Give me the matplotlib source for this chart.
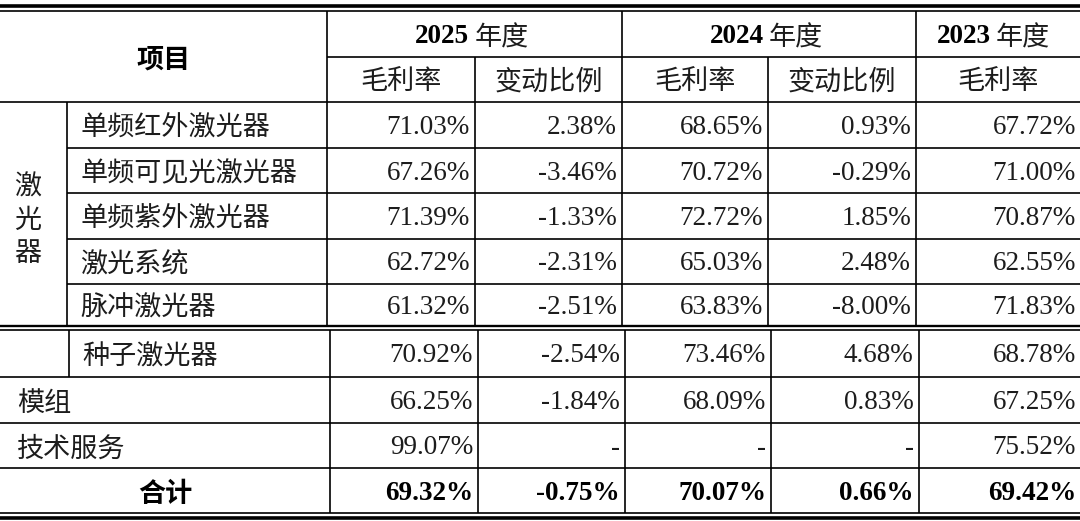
import matplotlib
matplotlib.use("Agg")
import matplotlib.pyplot as plt

# ---------------- data ----------------
categories = ["单频红外激光器", "单频可见光激光器", "单频紫外激光器", "激光系统", "脉冲激光器",
              "种子激光器", "模组", "技术服务", "合计"]
gm_2025 = [71.03, 67.26, 71.39, 62.72, 61.32, 70.92, 66.25, 99.07, 69.32]
chg_2025 = [2.38, -3.46, -1.33, -2.31, -2.51, -2.54, -1.84, None, -0.75]
gm_2024 = [68.65, 70.72, 72.72, 65.03, 63.83, 73.46, 68.09, None, 70.07]
chg_2024 = [0.93, -0.29, 1.85, 2.48, -8.00, 4.68, 0.83, None, 0.66]
gm_2023 = [67.72, 71.00, 70.87, 62.55, 71.83, 68.78, 67.25, 75.52, 69.42]
years = ["2025", "2024", "2023"]
sub_headers = ["毛利率", "变动比例", "毛利率", "变动比例", "毛利率"]
group_label = "激光器"
item_header = "项目"
year_suffix = "年度"

# ---------------- layout ----------------
W, H = 1080, 521
fig = plt.figure(figsize=(W / 100, H / 100), dpi=100)
ax = fig.add_axes([0, 0, 1, 1])
ax.set_xlim(0, W)
ax.set_ylim(H, 0)
ax.axis("off")

FS = 19.5
NUM_FONT = ["Liberation Serif", "Noto Sans CJK SC"]
CJK_FONT = ["Noto Sans CJK SC", "DejaVu Sans"]
TXT = "#1c1c1c"
LW = 1.2
CJK_DY = 3.5
NUM_DY = 2.5

# column borders (upper block / lower block, slightly shifted as in source)
cols_up = [0, 67, 327, 475, 622, 768, 916, 1080]
cols_lo = [0, 69, 330, 478, 625, 771, 918.5, 1080]

def hl(y, x0, x1, lw=LW):
    ax.plot([x0, x1], [y, y], color="black", lw=lw, solid_capstyle="butt")

def vl(x, y0, y1, lw=LW):
    ax.plot([x, x], [y0, y1], color="black", lw=lw, solid_capstyle="butt")

# horizontal rules
hl(6, 0, W, 2.6)
hl(10.5, 0, W)
hl(57, cols_up[2], W)
hl(102, 0, W)
for y in [148, 193, 239, 284]:
    hl(y, cols_up[1], W)
hl(326, 0, W, 1.7)
hl(330, 0, W)
for y in [377, 423, 468]:
    hl(y, 0, W)
hl(513, 0, W)
hl(518, 0, W, 2.6)

# vertical rules
vl(cols_up[1], 102, 326)
vl(cols_lo[1], 330, 377)
for i, x in enumerate(cols_up[2:7]):
    top = 10.5 if i in (0, 2, 4) else 57
    vl(x, top, 326)
for x in cols_lo[2:7]:
    vl(x, 330, 513)

# ---------------- header text ----------------
ax.text(cols_up[2] / 2, 56 + CJK_DY, item_header, ha="center", va="center", fontsize=FS,
        family=CJK_FONT, fontweight="bold", color="black")
year_spans = [(cols_up[2], cols_up[4]), (cols_up[4], cols_up[6]), (cols_up[6], W)]
for (a, b), yr, off in zip(year_spans, years, [5, 5, 7]):
    cx = (a + b) / 2
    ax.text(cx - off, 34 + NUM_DY, yr, ha="right", va="center", fontsize=FS,
            family=NUM_FONT, fontweight="bold", color="black")
    ax.text(cx - off + 5, 34 + CJK_DY, year_suffix, ha="left", va="center", fontsize=FS,
            family=CJK_FONT, color=TXT)
for i, s in enumerate(sub_headers):
    cx = (cols_up[2 + i] + cols_up[3 + i]) / 2
    ax.text(cx, 79 + CJK_DY, s, ha="center", va="center", fontsize=FS, family=CJK_FONT, color=TXT)

# group label (vertical)
ax.text(28, 217 + CJK_DY, "\n".join(group_label), ha="center", va="center", fontsize=FS,
        family=CJK_FONT, color=TXT, linespacing=1.3)

# ---------------- body ----------------
series = [gm_2025, chg_2025, gm_2024, chg_2024, gm_2023]
row_tops = [102, 148, 193, 239, 284, 330, 377, 423, 468]
row_bots = [148, 193, 239, 284, 326, 377, 423, 468, 513]

def fmt(v):
    return "-" if v is None else f"{v:.2f}%"

for r, cat in enumerate(categories):
    yc = (row_tops[r] + row_bots[r]) / 2
    cols = cols_up if r < 5 else cols_lo
    bold = r == len(categories) - 1
    if r < 6:
        lx = cols[1] + 13
        ax.text(lx, yc + CJK_DY, cat, ha="left", va="center", fontsize=FS, family=CJK_FONT, color=TXT)
    elif not bold:
        ax.text(17, yc + CJK_DY, cat, ha="left", va="center", fontsize=FS, family=CJK_FONT, color=TXT)
    else:
        ax.text(cols[2] / 2, yc + CJK_DY, cat, ha="center", va="center", fontsize=FS,
                family=CJK_FONT, fontweight="bold", color="black")
    for c, s in enumerate(series):
        xr = cols[3 + c] - 5 if c < 4 else W - 4
        ax.text(xr, yc + NUM_DY, fmt(s[r]), ha="right", va="center", fontsize=FS,
                family=NUM_FONT, fontweight="bold" if bold else "normal",
                color="black" if bold else TXT)

fig.savefig("out.png", dpi=100)
